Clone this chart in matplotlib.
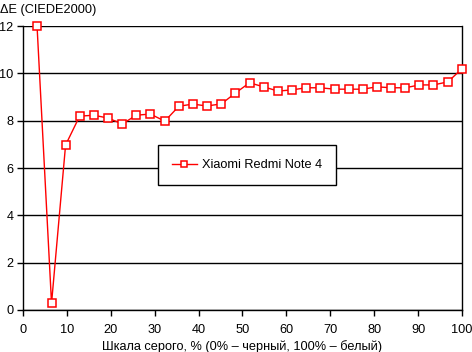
import matplotlib
matplotlib.use('Agg')
import matplotlib.pyplot as plt

# grey levels, %
gray = [3.2, 6.5, 9.7, 12.9, 16.1, 19.4, 22.6, 25.8, 29.0, 32.3, 35.5,
        38.7, 41.9, 45.2, 48.4, 51.6, 54.8, 58.1, 61.3, 64.5, 67.7, 71.0,
        74.2, 77.4, 80.6, 83.9, 87.1, 90.3, 93.5, 96.8, 100.0]
# delta E (CIEDE2000)
delta_e = [12.0, 0.28, 6.97, 8.19, 8.23, 8.11, 7.86, 8.23, 8.28, 7.98, 8.61,
           8.70, 8.62, 8.71, 9.17, 9.60, 9.43, 9.25, 9.30, 9.39, 9.39, 9.33,
           9.33, 9.33, 9.43, 9.39, 9.39, 9.51, 9.51, 9.64, 10.2]
series_name = 'Xiaomi Redmi Note 4'
x_ticks = list(range(0, 101, 10))
y_ticks = list(range(0, 13, 2))

plt.rcParams['font.family'] = ['Liberation Sans', 'DejaVu Sans']
plt.rcParams['font.size'] = 9.2

fig = plt.figure(figsize=(4.72, 3.52), dpi=100)
ax = fig.add_axes([23 / 472, 42 / 352, 439 / 472, 284 / 352])

ax.plot(gray, delta_e, color='red', linewidth=1, marker='s', markersize=5.5,
        markerfacecolor='white', markeredgecolor='red', markeredgewidth=1.1,
        label=series_name, zorder=3, clip_on=False)

ax.set_xlim(0, 100)
ax.set_ylim(0, 12)
ax.set_xticks(x_ticks)
ax.set_yticks(y_ticks)
ax.yaxis.grid(True, color='black', linewidth=1)
ax.set_axisbelow(True)

for side in ['top', 'left', 'right', 'bottom']:
    ax.spines[side].set_color('black')
    ax.spines[side].set_linewidth(1)
ax.spines['top'].set_visible(False)
ax.tick_params(direction='out', length=4, width=1, color='black', pad=3)
ax.tick_params(axis='x', pad=6)

ax.set_xlabel('Шкала серого, % (0% – черный, 100% – белый)', labelpad=3)
fig.text(0.0, 1 - 10 / 352, 'ΔE (CIEDE2000)', ha='left', va='center')

leg = ax.legend(loc='center', bbox_to_anchor=((247 - 23) / 439, (310 - 165) / 284),
                frameon=True, fancybox=False, edgecolor='black', framealpha=1,
                handlelength=2.0, handletextpad=0.4, borderpad=1.1,
                borderaxespad=0, markerscale=0.85)
leg.get_frame().set_linewidth(1)

fig.savefig('out.png', dpi=100)
